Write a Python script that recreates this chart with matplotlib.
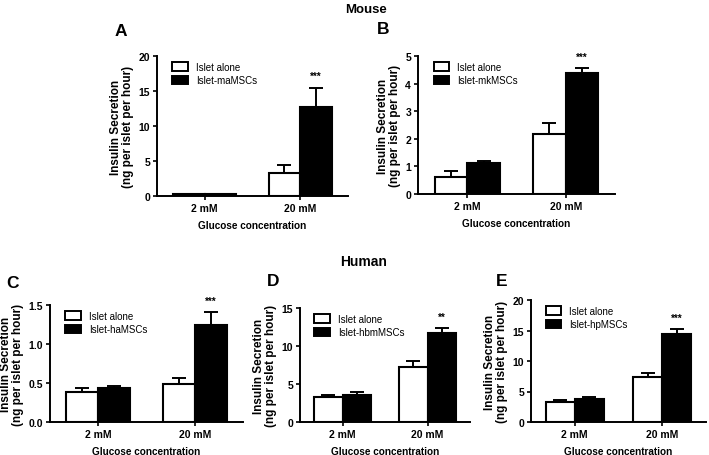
import matplotlib
matplotlib.use("Agg")
import matplotlib.pyplot as plt
from matplotlib.patches import Patch

plt.rcParams["font.family"] = ["Liberation Sans", "DejaVu Sans"]

groups = ["2 mM", "20 mM"]

# panel A (mouse, adipose MSCs)
a_alone = [0.3, 3.3]
a_alone_err = [0.05, 1.1]
a_msc = [0.25, 12.7]
a_msc_err = [0.05, 2.8]

# panel B (mouse, kidney MSCs)
b_alone = [0.62, 2.18]
b_alone_err = [0.23, 0.39]
b_msc = [1.12, 4.37]
b_msc_err = [0.08, 0.18]

# panel C (human, adipose MSCs)
c_alone = [0.39, 0.49]
c_alone_err = [0.04, 0.07]
c_msc = [0.43, 1.25]
c_msc_err = [0.03, 0.16]

# panel D (human, bone marrow MSCs)
d_alone = [3.3, 7.2]
d_alone_err = [0.3, 0.8]
d_msc = [3.6, 11.7]
d_msc_err = [0.35, 0.7]

# panel E (human, pancreatic MSCs)
e_alone = [3.3, 7.3]
e_alone_err = [0.3, 0.7]
e_msc = [3.8, 14.5]
e_msc_err = [0.3, 0.7]

panels = [
    ("A", "Islet-maMSCs", a_alone, a_alone_err, a_msc, a_msc_err, 20, [0, 5, 10, 15, 20], ["0", "5", "10", "15", "20"], "***"),
    ("B", "Islet-mkMSCs", b_alone, b_alone_err, b_msc, b_msc_err, 5, [0, 1, 2, 3, 4, 5], ["0", "1", "2", "3", "4", "5"], "***"),
    ("C", "Islet-haMSCs", c_alone, c_alone_err, c_msc, c_msc_err, 1.5, [0, 0.5, 1.0, 1.5], ["0.0", "0.5", "1.0", "1.5"], "***"),
    ("D", "Islet-hbmMSCs", d_alone, d_alone_err, d_msc, d_msc_err, 15, [0, 5, 10, 15], ["0", "5", "10", "15"], "**"),
    ("E", "Islet-hpMSCs", e_alone, e_alone_err, e_msc, e_msc_err, 20, [0, 5, 10, 15, 20], ["0", "5", "10", "15", "20"], "***"),
]

# axes boxes in pixels: left, top, right, bottom
boxes = [(157, 57, 348, 197), (418, 57, 615, 195), (50, 306, 243, 423),
         (300, 309, 470, 423), (531, 301, 706, 423)]
letter_pos = [(121, 32), (383, 30), (12, 283), (273, 282), (502, 282)]

W, H = 709, 456
fig = plt.figure(figsize=(W / 100, H / 100), dpi=100)

w = 0.33
for (letter, lab, alone, alone_err, msc, msc_err, ymax, yt, ytl, star), box, lp in zip(panels, boxes, letter_pos):
    l, t, r, b = box
    ax = fig.add_axes([l / W, 1 - b / H, (r - l) / W, (b - t) / H])
    x = range(len(groups))
    xa = [i - w / 2 for i in x]
    xm = [i + w / 2 for i in x]
    ax.bar(xa, alone, width=w, color="white", edgecolor="black", linewidth=1.5, zorder=3)
    ax.bar(xm, msc, width=w, color="black", edgecolor="black", linewidth=1.5, zorder=3)
    ax.errorbar(xa, alone, yerr=[[0] * 2, alone_err], fmt="none", ecolor="black",
                elinewidth=1.4, capsize=5, capthick=1.4, zorder=2)
    ax.errorbar(xm, msc, yerr=[[0] * 2, msc_err], fmt="none", ecolor="black",
                elinewidth=1.4, capsize=5, capthick=1.4, zorder=2)
    ax.text(xm[1], msc[1] + msc_err[1] + ymax * 0.05, star, ha="center", va="bottom",
            fontsize=7, fontweight="bold")
    ax.set_xlim(-0.5, 1.5)
    ax.set_ylim(0, ymax)
    ax.set_yticks(yt)
    ax.set_yticklabels(ytl)
    ax.set_xticks(list(x))
    ax.set_xticklabels(groups)
    for s in ["top", "right"]:
        ax.spines[s].set_visible(False)
    for s in ["left", "bottom"]:
        ax.spines[s].set_linewidth(1.4)
    ax.tick_params(width=1.2, length=3, labelsize=7.5, pad=2)
    for tl in ax.get_xticklabels() + ax.get_yticklabels():
        tl.set_fontweight("bold")
    ax.set_xlabel("Glucose concentration", fontsize=7.2, fontweight="bold", labelpad=5)
    ax.set_ylabel("Insulin Secretion\n(ng per islet per hour)", fontsize=8.5,
                  fontweight="bold", labelpad=3, linespacing=1.05)
    handles = [Patch(facecolor="white", edgecolor="black", linewidth=1.4),
               Patch(facecolor="black", edgecolor="black", linewidth=1.4)]
    ax.legend(handles, ["Islet alone", lab], loc="upper left", bbox_to_anchor=(0.05, 1.0),
              frameon=False, fontsize=7, handlelength=1.6, handleheight=0.9,
              handletextpad=0.8, labelspacing=0.35, borderaxespad=0.2)
    fig.text(lp[0] / W, 1 - lp[1] / H, letter, fontsize=12.5, fontweight="bold",
             ha="center", va="center")

fig.text(366 / W, 1 - 10 / H, "Mouse", fontsize=9.5, fontweight="bold", ha="center", va="center")
fig.text(364 / W, 1 - 262 / H, "Human", fontsize=10, fontweight="bold", ha="center", va="center")

fig.savefig("out.png", dpi=100)
